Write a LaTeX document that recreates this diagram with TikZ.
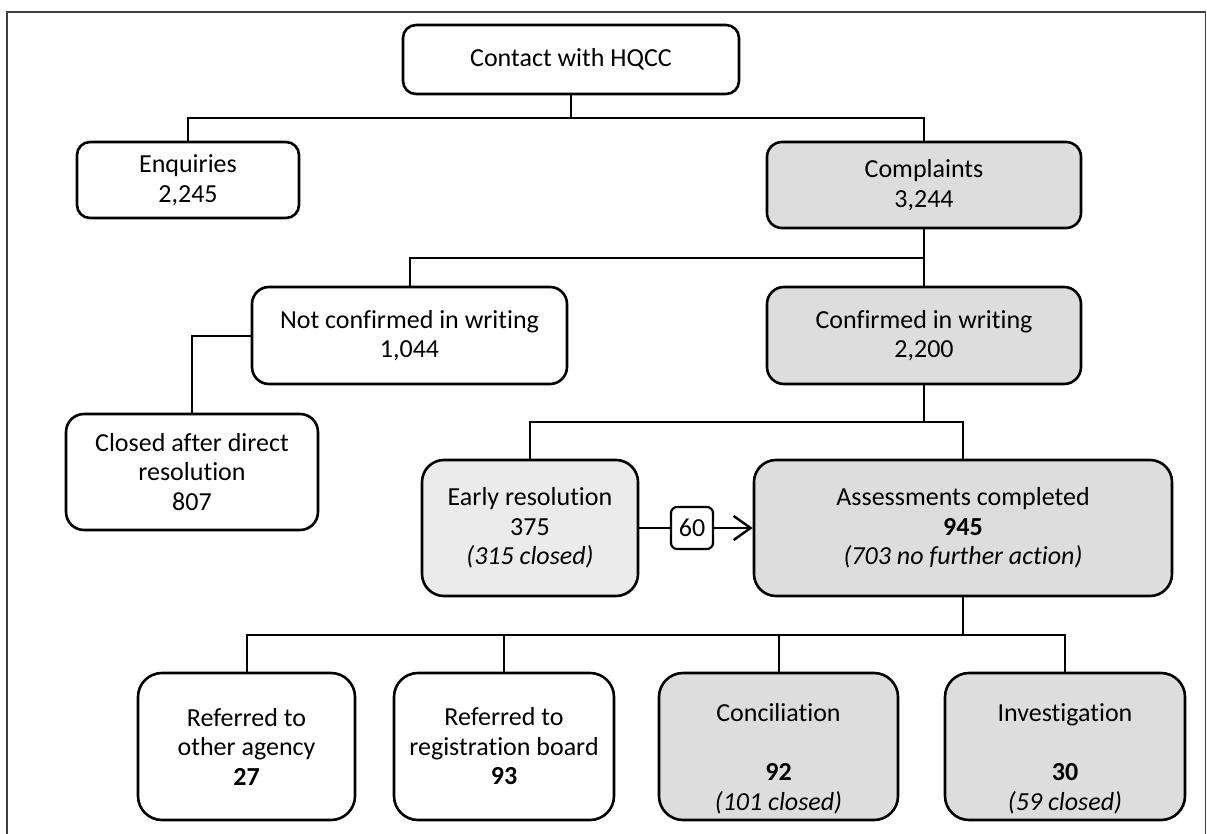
\documentclass[tikz,border=0pt]{standalone}
\usepackage{fontspec}
\setmainfont{Carlito}[Ligatures=NoCommon]
\usetikzlibrary{arrows.meta}
\definecolor{boxgrey}{HTML}{DDDDDD}
\definecolor{boxlight}{HTML}{EBEBEB}
\definecolor{framegrey}{HTML}{404040}
\begin{document}
\begin{tikzpicture}[x=1pt,y=-1pt,
  box/.style={draw=black, line width=2.6pt, rounded corners=16pt, align=center,
    inner sep=0pt, fill=white, font=\fontsize{26}{29.5}\selectfont},
  grey/.style={fill=boxgrey},
  lgrey/.style={fill=boxlight},
  conn/.style={draw=black, line width=2pt},
  txt/.style={align=center, inner sep=0pt, font=\fontsize{26}{29.5}\selectfont}]
\useasboundingbox (0,0) rectangle (1207,834);
\draw[framegrey, line width=1.8pt] (7,834) -- (7,12) -- (1205.5,12) -- (1205.5,834);

\node[box, minimum width=336pt, minimum height=69pt, rounded corners=13pt] (contact) at (571,59.5) {Contact with HQCC};
\node[box, minimum width=222pt, minimum height=76pt, rounded corners=13pt] (enq) at (188,180) {Enquiries\\2,245};
\node[box, grey, minimum width=314pt, minimum height=86pt, rounded corners=15pt] (compl) at (924,185) {Complaints\\3,244};
\node[box, minimum width=315pt, minimum height=97pt, rounded corners=17pt] (notconf) at (409.5,335.5) {Not confirmed in writing\\1,044};
\node[box, grey, minimum width=314pt, minimum height=97pt, rounded corners=17pt] (conf) at (924,335.5) {Confirmed in writing\\2,200};
\node[box, minimum width=252pt, minimum height=116pt, rounded corners=18pt] (closed) at (192,472) {Closed after direct\\resolution\\807};
\node[box, lgrey, minimum width=216pt, minimum height=136pt, rounded corners=22pt] (early) at (530,528) {Early resolution\\375\\\textit{(315 closed)}};
\node[box, line width=2.2pt, minimum width=42pt, minimum height=42pt, rounded corners=6pt] (sixty) at (692,528) {60};
\node[box, grey, minimum width=418pt, minimum height=136pt, rounded corners=22pt] (assess) at (963,528) {Assessments completed\\\textbf{945}\\\textit{(703 no further action)}};

\node[box, minimum width=217pt, minimum height=147pt, rounded corners=24pt] (other) at (246.5,746.5) {Referred to\\other agency\\\textbf{27}};
\node[box, minimum width=220pt, minimum height=147pt, rounded corners=24pt] (reg) at (504,746.5) {Referred to\\registration board\\\textbf{93}};
\node[box, grey, minimum width=239pt, minimum height=147pt, rounded corners=24pt] (concil) at (778.5,746.5) {};
\node[txt] (conciltxt) at (778.5,759) {Conciliation\\ \\\textbf{92}\\\textit{(101 closed)}};
\node[box, grey, minimum width=240pt, minimum height=147pt, rounded corners=24pt] (invest) at (1065,746.5) {};
\node[txt] (investtxt) at (1065,759) {Investigation\\ \\\textbf{30}\\\textit{(59 closed)}};

\coordinate (j1) at (571,118);
\coordinate (j2) at (924,258);
\coordinate (j3) at (924,422);
\coordinate (j4) at (963,635);

\draw[conn] (contact.south) -- (j1);
\draw[conn] (enq.north) |- (j1) -| (compl.north);
\draw[conn] (compl.south) -- (conf.north);
\draw[conn] (notconf.north) |- (j2);
\draw[conn] (notconf.west) -| (closed.north);
\draw[conn] (conf.south) -- (j3);
\draw[conn] (early.north) |- (j3) -| (assess.north);
\draw[conn, line width=2.2pt] (early.east) -- (sixty.west);
\draw[conn, line width=2.2pt, -{Straight Barb[length=17pt,width=24pt,line width=2.4pt]}] (sixty.east) -- (assess.west);
\draw[conn] (assess.south) -- (j4);
\draw[conn] (other.north) |- (j4) -| (invest.north);
\draw[conn] (reg.north) -- (reg.north |- j4);
\draw[conn] (concil.north) -- (concil.north |- j4);
\end{tikzpicture}
\end{document}
